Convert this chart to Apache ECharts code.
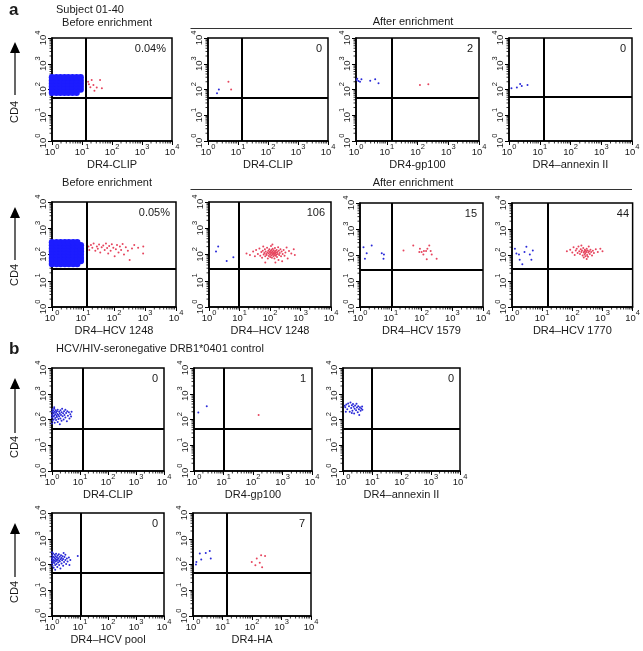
<!DOCTYPE html>
<html><head><meta charset="utf-8">
<script src="https://cdn.jsdelivr.net/npm/echarts@6/dist/echarts.min.js"></script>
<style>html,body{margin:0;padding:0;background:#fff}#c{width:643px;height:651px}</style>
</head><body><div id="c"></div>
<script>
// ---------- DATA ----------
const tickExponents = ['0','1','2','3','4'];
const minorTickValues = [2,3,4,5,6,7,8,9,20,30,40,50,60,70,80,90,200,300,400,500,600,700,800,900,2000,3000,4000,5000,6000,7000,8000,9000];
const xTitles = ['DR4-CLIP','DR4-CLIP','DR4-gp100','DR4\u2013annexin II',
  'DR4\u2013HCV 1248','DR4\u2013HCV 1248','DR4\u2013HCV 1579','DR4\u2013HCV 1770',
  'DR4-CLIP','DR4-gp100','DR4\u2013annexin II',
  'DR4\u2013HCV pool','DR4-HA'];
const countLabels = ['0.04%','0','2','0','0.05%','106','15','44','0','1','0','0','7'];
const gateX = [13.5,13,14.5,13, 13,9.5,11,15, 12.6,10,9.3, 11,13.5];
const gateY = [50,46,46,52, 28,28,28,29, 42,42,42, 49,49];

const blobA1 = [[1,75],[1.4,75],[1.9,75],[2.6,75],[3.5,75],[4.8,75],[6.6,75],
 [1,100],[1.4,100],[1.9,100],[2.6,100],[3.5,100],[4.8,100],[6.6,100],[9,100],
 [1,130],[1.4,130],[1.9,130],[2.6,130],[3.5,130],[4.8,130],[6.6,130],[9,130],
 [1,170],[1.4,170],[1.9,170],[2.6,170],[3.5,170],[4.8,170],[6.6,170],[9,170],
 [1,225],[1.4,225],[1.9,225],[2.6,225],[3.5,225],[4.8,225],[6.6,225],[9,225],
 [1,300],[1.4,300],[1.9,300],[2.6,300],[3.5,300],[4.8,300],[6.6,300],[9,300]];
const redA1 = [[16,200],[21,234],[24,148],[31,120],[40,234],[46,112],[19,123],[26,89],[17,160]];
const blueA2 = [[2.0,71],[2.3,100]];
const redA2 = [[4.8,200],[5.9,100]];
const blueA3 = [[1.05,235],[1.35,200],[1.5,250],[2.9,220],[4.2,250],[5.4,175],[1.1,260],[1.2,215]];
const redA3 = [[120,150],[225,160]];
const blueA4 = [[1.2,112],[1.8,120],[2.3,163],[2.6,138],[4.0,148]];

const blobA5 = [[1,43],[1.4,43],[1.9,43],[2.6,43],[3.5,43],[4.8,43],[6.5,43],
 [1,56],[1.4,56],[1.9,56],[2.6,56],[3.5,56],[4.8,56],[6.5,56],[8.5,56],
 [1,74],[1.4,74],[1.9,74],[2.6,74],[3.5,74],[4.8,74],[6.5,74],[8.5,74],
 [1,98],[1.4,98],[1.9,98],[2.6,98],[3.5,98],[4.8,98],[6.5,98],[8.5,98],
 [1,129],[1.4,129],[1.9,129],[2.6,129],[3.5,129],[4.8,129],[6.5,129],[8.5,129],
 [1,170],[1.4,170],[1.9,170],[2.6,170],[3.5,170],[4.8,170],[6.5,170],[8.5,170],
 [1,224],[1.4,224],[1.9,224],[2.6,224],[3.5,224],[4.8,224],[6.5,224],[8.5,224],
 [1,295],[1.4,295],[1.9,295],[2.6,295],[3.5,295],[4.8,295],[6.5,295]];
const redA5 = [[15,200],[16,150],[18,230],[20,180],[22,260],[25,140],[28,200],[30,165],[33,240],[36,120],
 [40,190],[45,220],[50,150],[55,260],[60,175],[65,110],[70,210],[78,140],[85,245],[95,180],
 [105,85],[115,160],[125,230],[140,120],[155,200],[170,150],[190,250],[210,100],[240,190],[280,140],
 [320,62],[380,170],[450,230],[600,180],[880,200],[870,110]];
const blueA6 = [[2.0,200],[1.7,130],[3.8,56],[6.3,78]];
const redA6 = [[17,110],[22,95],[28,130],[32,85],[35,150],[40,105],[45,170],[48,90],[52,125],[55,75],
 [58,140],[60,200],[62,100],[65,115],[68,160],[70,85],[72,130],[75,105],[78,95],[80,180],
 [82,120],[85,70],[88,140],[90,110],[92,88],[95,160],[97,125],[100,100],[102,80],[104,135],
 [106,115],[108,210],[110,92],[112,150],[114,120],[116,75],[118,105],[120,130],[122,165],[125,98],
 [128,115],[130,85],[132,145],[135,108],[138,125],[140,70],[142,95],[145,175],[148,112],[150,135],
 [155,90],[158,120],[160,100],[165,150],[170,80],[175,125],[180,105],[185,190],[190,62],[195,140],
 [200,95],[210,115],[220,160],[230,85],[240,130],[250,55],[260,105],[280,150],[300,90],[320,120],
 [350,185],[380,70],[420,135],[500,110],[600,160],[650,95],[70,50],[150,50],[120,240]];
const blueA7 = [[1.3,200],[1.65,118],[1.45,72],[2.4,230],[5.1,118],[5.8,72],[6.0,104]];
const redA7 = [[26,148],[54,230],[89,173],[101,130],[115,105],[141,142],[155,173],[179,230],[148,68],
 [215,105],[311,72],[199,142],[120,142],[85,130]];
const blueA8 = [[1.25,175],[1.4,113],[1.8,66],[2.2,44],[2.6,129],[3.0,209],[3.9,104],[4.4,66],[4.9,148],[1.7,104]];
const redA8 = [[66,140],[85,160],[100,125],[110,200],[130,150],[140,175],[150,120],[160,210],[170,140],[180,110],
 [190,165],[200,130],[210,150],[220,95],[230,185],[240,125],[250,140],[255,105],[260,160],[270,118],
 [275,90],[280,145],[290,130],[300,175],[310,100],[320,150],[330,85],[340,125],[350,210],[360,140],
 [380,110],[400,160],[420,130],[450,95],[480,145],[520,120],[600,165],[700,130],[850,175],[1000,140],
 [240,80],[300,70],[200,230],[120,100]];

const blueB1 = [[1.0,150],[1.0,200],[1.0,120],[1.05,90],[1.05,250],[1.1,170],[1.1,130],[1.1,220],[1.15,100],[1.15,180],
 [1.2,140],[1.2,260],[1.25,75],[1.25,200],[1.3,160],[1.3,115],[1.35,230],[1.4,185],[1.4,95],[1.45,140],
 [1.5,210],[1.5,125],[1.55,165],[1.6,80],[1.6,240],[1.7,150],[1.7,105],[1.8,200],[1.8,130],[1.9,170],
 [1.9,65],[2.0,230],[2.0,110],[2.1,150],[2.2,190],[2.2,90],[2.3,260],[2.4,135],[2.5,175],[2.6,100],
 [2.7,210],[2.8,150],[3.0,240],[3.0,120],[3.2,180],[3.4,85],[3.5,210],[3.7,140],[4.0,190],[4.2,110],
 [4.5,160],[5.0,200],[4.8,130],[1.0,70],[1.2,300]];
const blueB2 = [[1.4,186],[2.7,330]];
const redB2 = [[155,150]];
const blueB3 = [[1.2,300],[1.3,380],[1.4,250],[1.5,420],[1.6,330],[1.7,200],[1.8,460],[1.9,280],[2.0,360],[2.1,220],
 [2.2,400],[2.3,310],[2.4,170],[2.5,260],[2.6,350],[2.8,230],[2.9,410],[3.0,290],[3.2,190],[3.3,330],
 [3.5,250],[3.6,150],[3.8,300],[4.0,220],[4.2,270],[4.5,320],[4.6,240],[1.25,200],[1.15,340],[2.0,180]];
const blueB4 = [[1.0,140],[1.0,180],[1.0,110],[1.0,230],[1.05,90],[1.05,160],[1.1,200],[1.1,125],[1.1,270],[1.15,150],
 [1.15,75],[1.2,185],[1.2,115],[1.25,240],[1.25,140],[1.3,95],[1.3,170],[1.35,210],[1.35,130],[1.4,155],
 [1.4,260],[1.45,105],[1.5,190],[1.5,140],[1.55,80],[1.6,225],[1.6,160],[1.65,120],[1.7,175],[1.75,250],
 [1.8,140],[1.8,95],[1.9,200],[1.9,130],[2.0,160],[2.0,70],[2.1,230],[2.2,110],[2.2,180],[2.3,145],
 [2.4,210],[2.5,90],[2.5,165],[2.7,125],[2.8,195],[3.0,150],[3.0,240],[3.2,105],[3.4,170],[3.6,130],
 [4.0,185],[4.2,95],[4.5,150],[1.0,300],[1.3,62],[2.6,280],[8.3,215]];
const blueB5 = [[1.3,125],[1.7,265],[1.9,155],[2.7,280],[3.7,335],[4.0,170],[1.26,100]];
const redB5 = [[98,125],[145,170],[204,230],[277,212],[183,118],[220,78],[130,93]];

// ---------- LAYOUT ----------
const gridBoxes = [[52,38,120,103],[208,38,120,103],[356,38,123,103],[509,38,123,103],
  [52,202,124,105],[209,202,122,105],[360,203,123,104],[512,203,123,104],
  [52,368,112,103],[194,368,118,103],[343,368,117,103],
  [52,513,112,103],[193,513,118,103]];
const blobs = [blobA1,null,null,null, blobA5,null,null,null, null,null,null, null,null];
const blues = [[],blueA2,blueA3,blueA4, [],blueA6,blueA7,blueA8, blueB1,blueB2,blueB3, blueB4,blueB5];
const reds = [redA1,redA2,redA3,[], redA5,redA6,redA7,redA8, [],redB2,[], [],redB5];

const FONT = '"Liberation Sans", Arial, Helvetica, sans-serif';
const TXT = '#1a1a1a';
const BLUE = '#2a2ad8', BLOB = '#1c1cff', RED = '#e6455e';

const rich = {
  b: {fontSize: 9.5, fontFamily: FONT, color: TXT, verticalAlign: 'bottom', lineHeight: 14},
  s: {fontSize: 7.5, fontFamily: FONT, color: TXT, verticalAlign: 'top', lineHeight: 9}
};
const fmt = v => '{b|10}{s|' + tickExponents[Math.round(Math.log10(v))] + '}';

const grids = [], xAxes = [], yAxes = [], series = [], graphics = [];
gridBoxes.forEach((g, i) => {
  grids.push({left: g[0], top: g[1], width: g[2], height: g[3], show: true,
    borderColor: '#000', borderWidth: 1.5, backgroundColor: 'transparent'});
  const common = {type: 'log', logBase: 10, min: 1, max: 10000, gridIndex: i,
    axisLine: {show: true, lineStyle: {color: '#000', width: 1.5}},
    axisTick: {show: true, inside: false, length: 4, lineStyle: {color: '#000', width: 1}},
    splitLine: {show: false}, minorTick: {show: false}, minorSplitLine: {show: false}};
  xAxes.push(Object.assign({}, common, {
    axisLabel: {margin: 2, formatter: fmt, rich: rich, showMinLabel: true, showMaxLabel: true},
    name: xTitles[i], nameLocation: 'middle', nameGap: 18,
    nameTextStyle: {fontSize: 11, fontFamily: FONT, color: TXT}
  }));
  yAxes.push(Object.assign({}, common, {
    axisLabel: {margin: 4, rotate: 90, formatter: fmt, rich: rich, showMinLabel: true, showMaxLabel: true}
  }));
  // gates
  series.push({type: 'scatter', xAxisIndex: i, yAxisIndex: i, data: [[gateX[i], gateY[i]]], symbolSize: 0,
    silent: true,
    markLine: {silent: true, symbol: 'none', label: {show: false}, animation: false,
      lineStyle: {color: '#000', width: 2, type: 'solid', opacity: 1},
      data: [{xAxis: gateX[i]}, {yAxis: gateY[i]}]}});
  if (blobs[i]) series.push({type: 'scatter', xAxisIndex: i, yAxisIndex: i, data: blobs[i],
    symbolSize: 6.5, itemStyle: {color: BLOB, opacity: 1}, clip: true, silent: true});
  if (blues[i].length) series.push({type: 'scatter', xAxisIndex: i, yAxisIndex: i, data: blues[i],
    symbolSize: 2, itemStyle: {color: BLUE, opacity: 1}, clip: true, silent: true});
  if (reds[i].length) series.push({type: 'scatter', xAxisIndex: i, yAxisIndex: i, data: reds[i],
    symbolSize: 2, itemStyle: {color: RED, opacity: 1}, clip: true, silent: true});
  // minor log ticks
  series.push({type: 'custom', xAxisIndex: i, yAxisIndex: i, silent: true, clip: false,
    data: minorTickValues.map(v => [v, v]),
    renderItem: (params, api) => {
      const v = api.value(0);
      const a = api.coord([v, 1]);
      const b = api.coord([1, v]);
      return {type: 'group', children: [
        {type: 'line', shape: {x1: a[0], y1: a[1], x2: a[0], y2: a[1] + 2.5}, style: {stroke: '#000', lineWidth: 0.8}},
        {type: 'line', shape: {x1: b[0], y1: b[1], x2: b[0] - 2.5, y2: b[1]}, style: {stroke: '#000', lineWidth: 0.8}}
      ]};
    }});
  graphics.push({type: 'text', x: g[0] + g[2] - 6, y: g[1] + 11,
    style: {text: countLabels[i], textAlign: 'right', textVerticalAlign: 'middle',
      fontSize: 11, fontFamily: FONT, fill: TXT}});
});

function txt(x, y, s, o) {
  graphics.push({type: 'text', x: x, y: y, rotation: (o && o.rot) || 0,
    style: Object.assign({text: s, textAlign: 'left', textVerticalAlign: 'middle',
      fontSize: 11, fontFamily: FONT, fill: TXT}, o && o.style)});
}
txt(9, 10.5, 'a', {style: {fontSize: 17, fontWeight: 'bold'}});
txt(9, 349, 'b', {style: {fontSize: 17, fontWeight: 'bold'}});
txt(56, 9.5, 'Subject 01-40');
txt(107, 22.5, 'Before enrichment', {style: {textAlign: 'center'}});
txt(413, 22, 'After enrichment', {style: {textAlign: 'center'}});
txt(107, 182.5, 'Before enrichment', {style: {textAlign: 'center'}});
txt(413, 182.5, 'After enrichment', {style: {textAlign: 'center'}});
txt(56, 349, 'HCV/HIV-seronegative DRB1*0401 control');
[[28.5], [189.5]].forEach(r => graphics.push({type: 'line',
  shape: {x1: 190.5, y1: r[0], x2: 632, y2: r[0]}, style: {stroke: '#333', lineWidth: 1}}));
// CD4 arrows: [tip, lineEnd, labelCenter]
[[42, 95, 112], [207, 260, 275], [378, 433, 447], [523, 577, 592]].forEach(r => {
  graphics.push({type: 'polygon', shape: {points: [[15, r[0]], [10, r[0] + 11], [20, r[0] + 11]]}, style: {fill: '#000'}});
  graphics.push({type: 'line', shape: {x1: 15, y1: r[0] + 10, x2: 15, y2: r[1]}, style: {stroke: '#000', lineWidth: 1.2}});
  txt(15, r[2], 'CD4', {rot: Math.PI / 2, style: {textAlign: 'center'}});
});

const chart = echarts.init(document.getElementById('c'), null, {renderer: 'canvas'});
chart.setOption({
  animation: false,
  backgroundColor: '#fff',
  grid: grids, xAxis: xAxes, yAxis: yAxes, series: series, graphic: graphics
});
</script></body></html>
